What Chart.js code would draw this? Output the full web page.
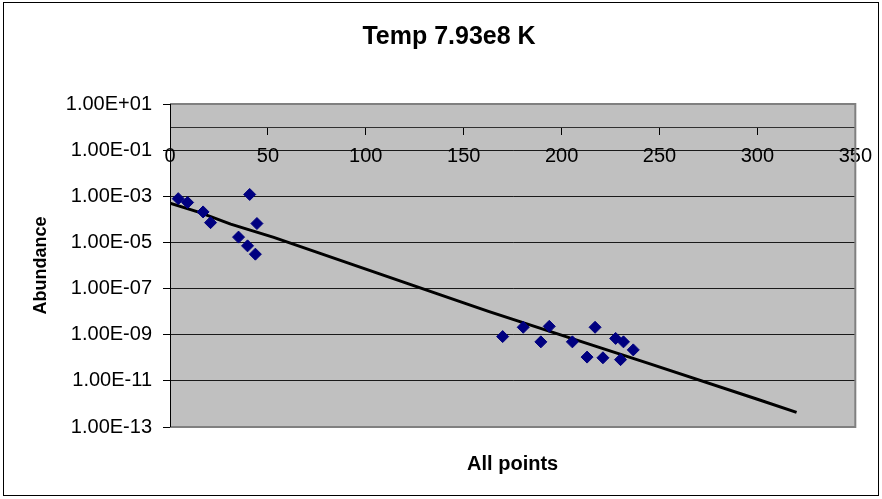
<!DOCTYPE html>
<html>
<head>
<meta charset="utf-8">
<script src="https://cdn.jsdelivr.net/npm/chart.js@4"></script>
<style>
  html, body { margin: 0; padding: 0; background: #ffffff; }
  #wrap { width: 882px; height: 499px; position: relative; }
</style>
</head>
<body>
<div id="wrap"><canvas id="c" width="882" height="499"></canvas></div>
<script>
// ---- data ----
const titleText = 'Temp 7.93e8 K';
const xTitle = 'All points';
const yTitle = 'Abundance';

const pointX = [4.2, 9.0, 16.9, 20.7, 35.0, 39.6, 40.7, 43.6, 44.4,
                169.9, 180.4, 189.4, 193.7, 205.5, 213.0, 217.1, 221.1, 227.6, 230.1, 231.6, 236.6];
const pointY = [7.9e-4, 5.4e-4, 2.1e-4, 7.2e-5, 1.7e-5, 7.1e-6, 1.2e-3, 3.1e-6, 6.6e-5,
                8.3e-10, 2.1e-9, 4.9e-10, 2.3e-9, 4.9e-10, 1.07e-10, 2.1e-9, 1.0e-10, 6.9e-10, 8.3e-11, 4.9e-10, 2.2e-10];

const fitX = [0, 15, 31, 53, 100, 150, 163, 205, 244, 300, 320];
const fitY = [5.0e-4, 2.0e-4, 6.2e-5, 1.66e-5, 7.0e-7, 2.4e-8, 1.0e-8, 6.9e-10, 5.9e-11, 1.6e-12, 4.3e-13];

const yTicks = [1e1, 1e-1, 1e-3, 1e-5, 1e-7, 1e-9, 1e-11, 1e-13];
const xTicks = [0, 50, 100, 150, 200, 250, 300, 350];

// ---- helpers ----
function sci(v) {
  const e = Math.round(Math.log10(v));
  const m = v / Math.pow(10, e);
  return m.toFixed(2) + 'E' + (e < 0 ? '-' : '+') + String(Math.abs(e)).padStart(2, '0');
}
const FONT = '"Liberation Sans", Arial, sans-serif';

const scatterData = pointX.map((x, i) => ({ x: x, y: pointY[i] }));
const fitData = fitX.map((x, i) => ({ x: x, y: fitY[i] }));

const plotBg = {
  id: 'plotBg',
  beforeDraw(chart) {
    const a = chart.chartArea, ctx = chart.ctx;
    ctx.save();
    ctx.fillStyle = '#ffffff';
    ctx.fillRect(0, 0, chart.width, chart.height);
    ctx.fillStyle = '#c0c0c0';
    ctx.fillRect(a.left, a.top, a.right - a.left, a.bottom - a.top);
    ctx.restore();
  },
  beforeDatasetsDraw(chart) {
    const a = chart.chartArea, ctx = chart.ctx;
    ctx.save();
    ctx.strokeStyle = '#808080';
    ctx.lineWidth = 2;
    ctx.beginPath();
    ctx.moveTo(a.left, a.top);
    ctx.lineTo(a.right, a.top);
    ctx.lineTo(a.right, a.bottom);
    ctx.lineTo(a.left, a.bottom);
    ctx.stroke();
    ctx.strokeStyle = '#000000';
    ctx.lineWidth = 1;
    ctx.beginPath();
    ctx.moveTo(a.left + 0.5, a.top);
    ctx.lineTo(a.left + 0.5, a.bottom);
    ctx.stroke();
    ctx.restore();
  },
  afterDraw(chart) {
    const ctx = chart.ctx;
    ctx.save();
    ctx.strokeStyle = '#000000';
    ctx.lineWidth = 1;
    ctx.strokeRect(3.5, 2.5, chart.width - 7, chart.height - 6);
    // chart title (Excel centres it slightly right of the page centre)
    ctx.fillStyle = '#000000';
    ctx.font = 'bold 25px ' + FONT;
    ctx.textAlign = 'center';
    ctx.textBaseline = 'middle';
    ctx.fillText(titleText, 449, 37);
    ctx.restore();
  }
};

new Chart(document.getElementById('c'), {
  type: 'scatter',
  data: {
    datasets: [
      {
        label: 'fit',
        data: fitData,
        showLine: true,
        borderColor: '#000000',
        borderWidth: 3,
        pointRadius: 0,
        tension: 0,
        order: 2
      },
      {
        label: 'points',
        data: scatterData,
        pointStyle: 'rectRot',
        pointRadius: 6,
        backgroundColor: '#000080',
        borderColor: '#000080',
        borderWidth: 1,
        order: 1
      }
    ]
  },
  plugins: [plotBg],
  options: {
    responsive: false,
    animation: false,
    layout: { padding: { left: 16, right: 24, top: 104, bottom: 0 } },
    plugins: {
      legend: { display: false },
      tooltip: { enabled: false },
      title: { display: false }
    },
    scales: {
      x: {
        type: 'linear',
        position: { y: 1 },
        min: 0,
        max: 350,
        afterBuildTicks(scale) { scale.ticks = xTicks.map(v => ({ value: v })); },
        ticks: {
          color: '#000000',
          font: { family: FONT, size: 20 },
          padding: 10,
          maxRotation: 0,
          autoSkip: false
        },
        grid: {
          drawOnChartArea: false,
          drawTicks: true,
          tickLength: 7,
          color: '#000000'
        },
        border: { display: true, color: '#303030', width: 1 }
      },
      x2: {
        type: 'linear',
        position: 'bottom',
        min: 0,
        max: 350,
        afterFit(scale) { scale.height = 72; },
        ticks: { display: false },
        grid: { display: false, drawTicks: false },
        border: { display: false },
        title: {
          display: true,
          text: xTitle,
          color: '#000000',
          font: { family: FONT, size: 20, weight: 'bold', lineHeight: 1.2 },
          padding: { top: 0, bottom: 23 }
        }
      },
      y: {
        type: 'logarithmic',
        position: 'left',
        min: 1e-13,
        max: 1e1,
        afterBuildTicks(scale) { scale.ticks = yTicks.map(v => ({ value: v })); },
        afterFit(scale) { scale.width = 154; },
        ticks: {
          color: '#000000',
          font: { family: FONT, size: 20 },
          padding: 11,
          callback: (v) => sci(v),
          autoSkip: false
        },
        grid: {
          color: '#1a1a1a',
          lineWidth: 1,
          drawTicks: true,
          tickLength: 7,
          tickColor: '#000000'
        },
        border: { display: true, color: '#000000', width: 1 },
        title: {
          display: true,
          text: yTitle,
          color: '#000000',
          font: { family: FONT, size: 18, weight: 'bold', lineHeight: 1.2 },
          padding: { top: 14, bottom: 0 }
        }
      }
    }
  }
});
</script>
</body>
</html>
